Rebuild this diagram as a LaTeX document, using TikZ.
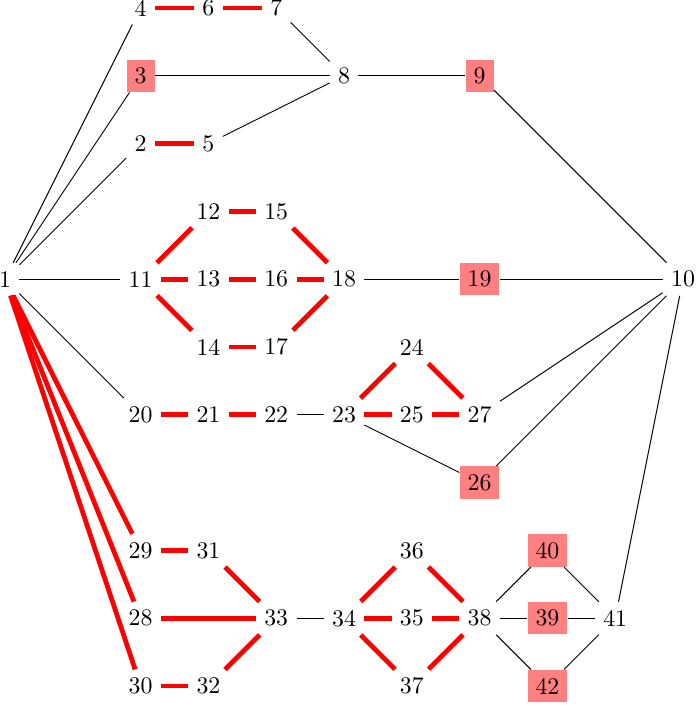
\documentclass[tikz,border=0pt]{standalone}
\begin{document}
\begin{tikzpicture}[x=1cm,y=-1cm,
  vtx/.style={inner sep=0.333em},
  hl/.style={vtx,fill=red!50},
  thinedge/.style={draw=black,line width=0.4pt},
  redge/.style={draw=red,line width=2pt}]
\useasboundingbox (-0.074,-0.118) rectangle (10.177,10.28);
\foreach \n/\c/\r in {1/0/4,4/2/0,6/3/0,7/4/0,8/5/1,2/2/2,5/3/2,
  12/3/3,15/4/3,11/2/4,13/3/4,16/4/4,18/5/4,10/10/4,14/3/5,17/4/5,24/6/5,
  20/2/6,21/3/6,22/4/6,23/5/6,25/6/6,27/7/6,
  29/2/8,31/3/8,36/6/8,28/2/9,33/4/9,34/5/9,35/6/9,38/7/9,41/9/9,
  30/2/10,32/3/10,37/6/10}
  \node[vtx] (n\n) at (\c,\r) {\n};
\foreach \n/\c/\r in {3/2/1,9/7/1,19/7/4,26/7/7,40/8/8,39/8/9,42/8/10}
  \node[hl] (n\n) at (\c,\r) {\n};
\foreach \a/\b in {1/4,1/3,1/2,1/11,1/20,7/8,3/8,5/8,8/9,9/10,18/19,19/10,
  27/10,26/10,41/10,23/26,22/23,33/34,38/40,38/39,38/42,40/41,39/41,42/41}
  \draw[thinedge] (n\a) -- (n\b);
\foreach \a/\b in {4/6,6/7,2/5,11/12,11/13,11/14,12/15,13/16,14/17,15/18,16/18,17/18,
  20/21,21/22,23/24,23/25,24/27,25/27,1/29,1/28,1/30,29/31,28/33,30/32,31/33,32/33,
  34/36,34/35,34/37,36/38,35/38,37/38}
  \draw[redge] (n\a) -- (n\b);
\end{tikzpicture}
\end{document}
